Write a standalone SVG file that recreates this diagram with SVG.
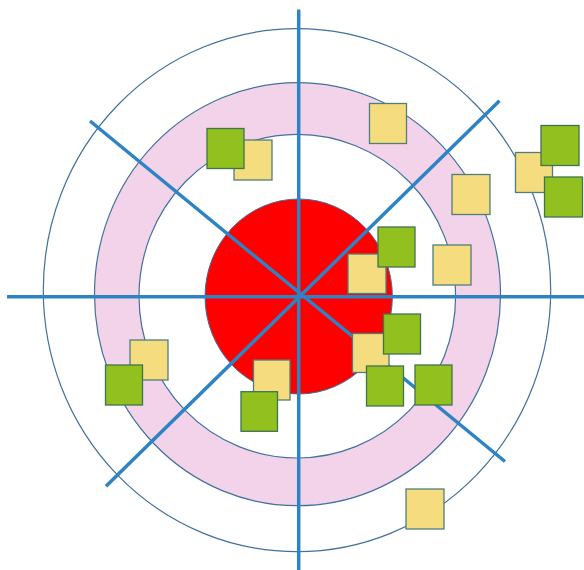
<svg xmlns="http://www.w3.org/2000/svg" width="584" height="570" viewBox="0 0 584 570">
<style>
.ring{fill:none;stroke:#41719C;stroke-width:1.2}
.axis{stroke:#2E83C4;stroke-width:3.5;stroke-linecap:butt}
.y{fill:#F5DC7E;stroke:#4F7F7A;stroke-width:1.3}
.g{fill:#92C01F;stroke:#3F7450;stroke-width:1.3}
</style>
<rect width="584" height="570" fill="#FFFFFF"/>
<g id="target">
<ellipse cx="297" cy="290.2" rx="253.7" ry="261.5" class="ring"/>
<path d="M297.5,82.7 A203,211.5 0 1 1 297.5,505.7 A203,211.5 0 1 1 297.5,82.7 Z M297.3,134.4 A158.3,161.8 0 1 0 297.3,458 A158.3,161.8 0 1 0 297.3,134.4 Z" fill="#F2D3EA" fill-rule="evenodd" stroke="#41719C" stroke-width="1.2"/>
<ellipse cx="298.7" cy="296.5" rx="93.7" ry="97.5" fill="#FF0000" stroke="#41719C" stroke-width="1"/>
</g>
<g id="connectors">
<line x1="298.7" y1="9.5" x2="298.7" y2="570" class="axis"/>
<line x1="7" y1="296.7" x2="584" y2="296.7" class="axis"/>
<line x1="90" y1="121" x2="505" y2="461.5" class="axis"/>
<line x1="499.5" y1="100.7" x2="106" y2="486.3" class="axis"/>
</g>
<g id="node-y1"><rect x="234" y="140" width="38" height="40" class="y"/></g>
<g id="node-g1"><rect x="207" y="128.5" width="37" height="40" class="g"/></g>
<g id="node-y2"><rect x="369.5" y="103.5" width="37" height="40" class="y"/></g>
<g id="node-y3"><rect x="452" y="174.5" width="38" height="40" class="y"/></g>
<g id="node-y4"><rect x="515.5" y="152.5" width="37" height="40" class="y"/></g>
<g id="node-g2"><rect x="541" y="125.5" width="38" height="40" class="g"/></g>
<g id="node-g3"><rect x="544.5" y="177" width="38" height="40" class="g"/></g>
<g id="node-y5"><rect x="348" y="254" width="38" height="39.5" class="y"/></g>
<g id="node-g4"><rect x="378" y="227" width="37" height="40" class="g"/></g>
<g id="node-y6"><rect x="433" y="245" width="38" height="40" class="y"/></g>
<g id="node-y7"><rect x="130" y="340" width="38" height="40" class="y"/></g>
<g id="node-g5"><rect x="105.5" y="365" width="37" height="40" class="g"/></g>
<g id="node-y8"><rect x="253.5" y="360" width="36.5" height="40" class="y"/></g>
<g id="node-g6"><rect x="241" y="391.7" width="36.5" height="39.6" class="g"/></g>
<g id="node-y9"><rect x="352.5" y="333.5" width="36.5" height="39" class="y"/></g>
<g id="node-g7"><rect x="383.5" y="314" width="37" height="40" class="g"/></g>
<g id="node-g8"><rect x="366.5" y="366" width="37" height="40" class="g"/></g>
<g id="node-g9"><rect x="415" y="365" width="37" height="40" class="g"/></g>
<g id="node-y10"><rect x="406" y="489" width="38" height="40" class="y"/></g>
</svg>
